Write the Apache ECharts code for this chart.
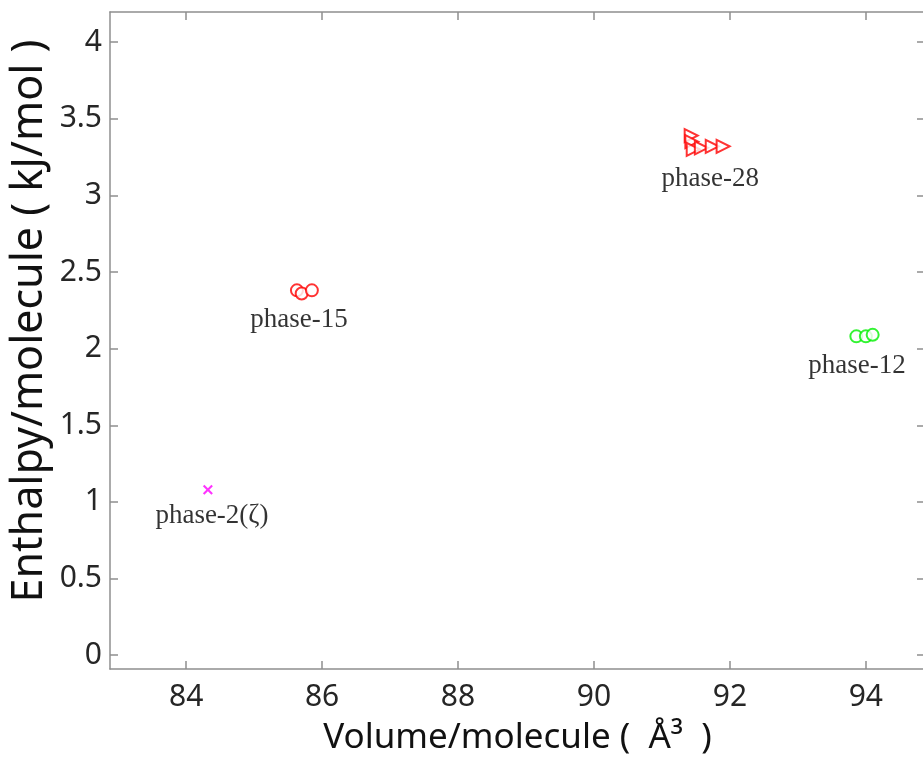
<!DOCTYPE html>
<html>
<head>
<meta charset="utf-8">
<script src="https://cdn.jsdelivr.net/npm/echarts@6/dist/echarts.min.js"></script>
<style>
  html, body { margin: 0; padding: 0; background: #fff; }
  #chart { width: 923px; height: 757px; }
</style>
</head>
<body>
<div id="chart"></div>
<script>
// Volume (Å^3) and enthalpy (kJ/mol) per molecule for each phase
const phase28Volume = [91.43, 91.44, 91.46, 91.58, 91.74, 91.90];
const phase28Enthalpy = [3.39, 3.35, 3.30, 3.31, 3.32, 3.32];
const phase15Volume = [85.63, 85.70, 85.85];
const phase15Enthalpy = [2.38, 2.36, 2.38];
const phase12Volume = [93.86, 94.00, 94.10];
const phase12Enthalpy = [2.08, 2.08, 2.09];
const phase2Volume = [84.32];
const phase2Enthalpy = [1.08];

// Phase name labels and their anchor points (volume, enthalpy)
const phaseNames = ['phase-28', 'phase-15', 'phase-12', 'phase-2(ζ)'];
const labelVolume = [91.71, 85.66, 93.87, 84.38];
const labelEnthalpy = [3.11, 2.19, 1.89, 0.91];

// Tick values
const xTicks = [84, 86, 88, 90, 92, 94];
const yTicks = [0, 0.5, 1, 1.5, 2, 2.5, 3, 3.5, 4];

const xMin = 82.88, xMax = 94.87;
const yMin = -0.09, yMax = 4.196;

const zip = (a, b) => a.map((v, i) => [v, b[i]]);

const axisGray = '#8f8f8f';
const tickFont = { fontFamily: 'Noto Sans', fontSize: 30, color: '#262626' };

function boxAxis(pos, min, max, ticks, isMain, extra) {
  return Object.assign({
    type: 'value', position: pos, min: min, max: max,
    axisLine: { show: true, onZero: false, lineStyle: { color: axisGray, width: 1.5 } },
    axisTick: { show: true, inside: true, length: 8, customValues: ticks, lineStyle: { color: axisGray, width: 1.5 } },
    axisLabel: isMain ? Object.assign({ customValues: ticks, formatter: v => String(v) }, tickFont) : { show: false },
    splitLine: { show: false }
  }, extra || {});
}

const chart = echarts.init(document.getElementById('chart'), null, { renderer: 'canvas' });

const crossPath = 'path://M1.5,0L5,3.5L8.5,0L10,1.5L6.5,5L10,8.5L8.5,10L5,6.5L1.5,10L0,8.5L3.5,5L0,1.5Z';

chart.setOption({
  backgroundColor: '#ffffff',
  animation: false,
  grid: { left: 110, top: 12, right: -2, bottom: 88, containLabel: false, outerBoundsMode: 'none' },
  xAxis: [
    boxAxis('bottom', xMin, xMax, xTicks, true, {
      name: 'Volume/molecule (  Å³  )', nameLocation: 'middle', nameGap: 52,
      nameTextStyle: { fontFamily: 'Noto Sans', fontSize: 35, color: '#111' },
      axisLabel: Object.assign({ customValues: xTicks, margin: 13, formatter: v => String(v) }, tickFont)
    }),
    boxAxis('top', xMin, xMax, xTicks, false)
  ],
  yAxis: [
    boxAxis('left', yMin, yMax, yTicks, true, {
      axisLabel: Object.assign({ customValues: yTicks, margin: 8, formatter: v => String(v) }, tickFont)
    }),
    boxAxis('right', yMin, yMax, yTicks, false)
  ],
  graphic: [{
    type: 'text', x: 30, y: 321, rotation: Math.PI / 2,
    style: {
      text: 'Enthalpy/molecule ( kJ/mol )', fontFamily: 'Noto Sans', fontSize: 43,
      fill: '#111', align: 'center', verticalAlign: 'middle'
    }
  }],
  series: [
    {
      name: 'phase-28', type: 'scatter', data: zip(phase28Volume, phase28Enthalpy),
      symbol: 'emptyTriangle', symbolSize: 13, symbolRotate: -90,
      itemStyle: { color: '#ff0000', borderColor: '#ff0000', borderWidth: 3.5 }
    },
    {
      name: 'phase-15', type: 'scatter', data: zip(phase15Volume, phase15Enthalpy),
      symbol: 'emptyCircle', symbolSize: 12,
      itemStyle: { color: '#ff0000', borderColor: '#ff0000', borderWidth: 3.5 }
    },
    {
      name: 'phase-12', type: 'scatter', data: zip(phase12Volume, phase12Enthalpy),
      symbol: 'emptyCircle', symbolSize: 12,
      itemStyle: { color: '#00f000', borderColor: '#00f000', borderWidth: 3.5 }
    },
    {
      name: 'phase-2', type: 'scatter', data: zip(phase2Volume, phase2Enthalpy),
      symbol: crossPath, symbolSize: 10,
      itemStyle: { color: '#ff00ff' }
    },
    {
      name: 'names', type: 'scatter', symbolSize: 0, silent: true,
      data: phaseNames.map((n, i) => ({ value: [labelVolume[i], labelEnthalpy[i]], name: n })),
      label: {
        show: true, position: 'inside', formatter: p => p.name,
        fontFamily: 'Liberation Serif', fontSize: 27, color: '#000'
      }
    }
  ]
});
</script>
</body>
</html>
